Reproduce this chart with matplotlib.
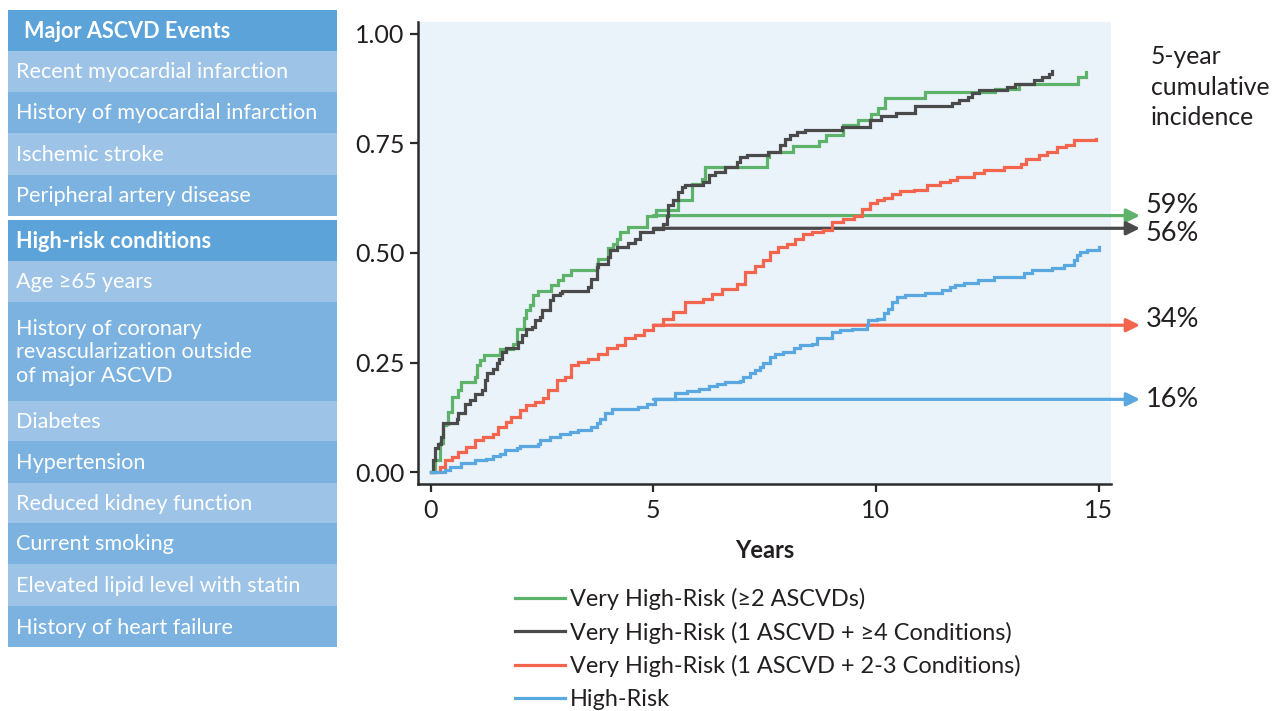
import matplotlib
matplotlib.use("Agg")
import matplotlib.pyplot as plt
from matplotlib.patches import Rectangle
from matplotlib.lines import Line2D

plt.rcParams['font.family'] = ['Lato', 'DejaVu Sans']

# ---------------- data ----------------
series_names = [
    "Very High-Risk (\u22652 ASCVDs)",
    "Very High-Risk (1 ASCVD + \u22654 Conditions)",
    "Very High-Risk (1 ASCVD + 2-3 Conditions)",
    "High-Risk",
]
five_year = [0.585, 0.556, 0.335, 0.166]
five_year_labels = ["59%", "56%", "34%", "16%"]

green_t = [0, 0.09, 0.2, 0.28, 0.35, 0.39, 0.47, 0.61, 0.69, 0.99, 1.03, 1.1, 1.19, 1.55, 1.85, 1.94,
           2.1, 2.15, 2.23, 2.3, 2.4, 2.71, 2.86, 2.98, 3.14, 3.73, 3.76, 3.99, 4.1, 4.18, 4.25, 4.44,
           4.85, 5.07, 5.56, 5.86, 6.09, 6.16, 7.55, 7.6, 8.13, 8.72, 8.88, 9.27, 9.6, 9.9, 10.04, 10.2,
           11.11, 12.68, 13.21, 14.53, 14.71]
green_v = [0, 0.027, 0.066, 0.107, 0.11, 0.137, 0.172, 0.187, 0.206, 0.217, 0.244, 0.255, 0.267, 0.28,
           0.293, 0.327, 0.352, 0.369, 0.38, 0.403, 0.413, 0.426, 0.437, 0.449, 0.46, 0.475, 0.487, 0.51,
           0.521, 0.532, 0.547, 0.56, 0.585, 0.597, 0.62, 0.658, 0.669, 0.696, 0.718, 0.73, 0.743, 0.755,
           0.768, 0.792, 0.804, 0.817, 0.83, 0.853, 0.866, 0.874, 0.885, 0.902, 0.912]

dark_t = [0, 0.05, 0.1, 0.16, 0.22, 0.28, 0.58, 0.61, 0.76, 0.88, 1.0, 1.15, 1.21, 1.27, 1.4, 1.48, 1.53,
          1.6, 1.68, 1.95, 2.04, 2.15, 2.28, 2.34, 2.45, 2.5, 2.68, 2.75, 2.9, 2.94, 3.54, 3.61, 3.73,
          3.76, 3.97, 4.03, 4.18, 4.44, 4.59, 4.7, 5.0, 5.22, 5.3, 5.34, 5.45, 5.56, 5.64, 5.71, 6.12,
          6.24, 6.39, 6.61, 6.87, 6.95, 7.1, 7.58, 7.85, 7.95, 8.07, 8.22, 8.41, 9.24, 9.87, 10.11, 10.46,
          10.87, 11.7, 11.86, 12.06, 12.16, 12.31, 12.95, 13.13, 13.55, 13.73, 13.88, 13.96]
dark_v = [0, 0.027, 0.054, 0.065, 0.08, 0.111, 0.122, 0.134, 0.156, 0.164, 0.178, 0.187, 0.21, 0.225,
          0.236, 0.248, 0.259, 0.274, 0.284, 0.297, 0.312, 0.327, 0.33, 0.346, 0.354, 0.369, 0.392, 0.403,
          0.409, 0.413, 0.422, 0.441, 0.468, 0.475, 0.49, 0.506, 0.513, 0.523, 0.532, 0.547, 0.555, 0.566,
          0.585, 0.608, 0.62, 0.638, 0.65, 0.654, 0.661, 0.677, 0.684, 0.696, 0.707, 0.718, 0.722, 0.73,
          0.745, 0.76, 0.768, 0.775, 0.781, 0.788, 0.802, 0.811, 0.818, 0.834, 0.841, 0.849, 0.856, 0.864,
          0.872, 0.878, 0.885, 0.893, 0.9, 0.908, 0.914]

red_t = [0, 0.2, 0.31, 0.47, 0.61, 0.8, 0.99, 1.18, 1.4, 1.51, 1.7, 1.81, 2.0, 2.15, 2.34, 2.53, 2.64,
         2.83, 3.01, 3.16, 3.31, 3.54, 3.76, 3.95, 4.18, 4.36, 4.59, 4.78, 5.0, 5.22, 5.45, 5.71, 6.12,
         6.31, 6.54, 6.87, 7.06, 7.29, 7.47, 7.62, 7.81, 8.0, 8.19, 8.37, 8.56, 8.82, 9.01, 9.27, 9.5,
         9.69, 9.87, 10.02, 10.17, 10.36, 10.55, 10.85, 11.15, 11.45, 11.67, 11.82, 12.2, 12.42, 12.87,
         13.25, 13.36, 13.66, 13.85, 14.07, 14.26, 14.44, 14.95]
red_v = [0, 0.012, 0.027, 0.035, 0.046, 0.058, 0.073, 0.08, 0.088, 0.103, 0.115, 0.126, 0.141, 0.153,
         0.16, 0.168, 0.187, 0.21, 0.217, 0.244, 0.251, 0.259, 0.27, 0.282, 0.289, 0.305, 0.312, 0.323,
         0.335, 0.35, 0.365, 0.388, 0.395, 0.407, 0.418, 0.43, 0.456, 0.471, 0.483, 0.502, 0.513, 0.521,
         0.532, 0.544, 0.547, 0.551, 0.57, 0.578, 0.585, 0.6, 0.614, 0.62, 0.625, 0.635, 0.641, 0.644,
         0.654, 0.661, 0.665, 0.674, 0.682, 0.688, 0.695, 0.702, 0.714, 0.724, 0.73, 0.741, 0.747, 0.758,
         0.76]

blue_t = [0, 0.2, 0.31, 0.43, 0.69, 0.99, 1.25, 1.4, 1.55, 1.66, 1.93, 2.0, 2.41, 2.45, 2.68, 2.9, 3.13,
          3.31, 3.61, 3.73, 3.8, 3.91, 4.06, 4.66, 4.85, 5.04, 5.49, 5.75, 6.03, 6.24, 6.42, 6.61, 6.95,
          7.02, 7.17, 7.29, 7.4, 7.47, 7.62, 7.74, 7.92, 8.15, 8.3, 8.56, 8.67, 8.93, 9.01, 9.2, 9.46,
          9.8, 9.82, 10.02, 10.17, 10.28, 10.36, 10.47, 10.66, 11.11, 11.48, 11.67, 11.78, 11.97, 12.29,
          12.66, 13.32, 13.51, 13.96, 14.22, 14.44, 14.52, 14.59, 14.74, 15.01]
blue_v = [0, 0, 0.005, 0.012, 0.02, 0.027, 0.031, 0.036, 0.042, 0.05, 0.054, 0.059, 0.065, 0.073, 0.08,
          0.087, 0.092, 0.096, 0.103, 0.111, 0.122, 0.134, 0.145, 0.148, 0.155, 0.166, 0.181, 0.185, 0.19,
          0.196, 0.202, 0.206, 0.208, 0.217, 0.225, 0.232, 0.24, 0.248, 0.263, 0.269, 0.274, 0.284, 0.289,
          0.292, 0.305, 0.306, 0.32, 0.325, 0.327, 0.335, 0.348, 0.35, 0.363, 0.373, 0.388, 0.399, 0.405,
          0.408, 0.415, 0.422, 0.426, 0.431, 0.439, 0.445, 0.453, 0.46, 0.466, 0.472, 0.483, 0.494, 0.502,
          0.507, 0.513]

x_ticks = [0, 5, 10, 15]
y_ticks = [0.00, 0.25, 0.50, 0.75, 1.00]

ascvd_header = "Major ASCVD Events"
ascvd_items = ["Recent myocardial infarction", "History of myocardial infarction",
               "Ischemic stroke", "Peripheral artery disease"]
cond_header = "High-risk conditions"
cond_items = ["Age \u226565 years",
              "History of coronary\nrevascularization outside\nof major ASCVD",
              "Diabetes", "Hypertension", "Reduced kidney function", "Current smoking",
              "Elevated lipid level with statin", "History of heart failure"]

# ---------------- styles ----------------
colors = ["#5DB36A", "#4A4A4A", "#F4654E", "#5AA8E0"]
TXT = "#231F20"
HDR = "#5BA3D9"
LIGHT = "#9DC3E6"
MED = "#7BB2DF"
W, H = 1273, 711

fig = plt.figure(figsize=(W / 100, H / 100), dpi=100)

# ---- left panel (pixel coordinates) ----
pan = fig.add_axes([0, 0, 1, 1])
pan.set_xlim(0, W)
pan.set_ylim(H, 0)
pan.axis("off")

x0, x1 = 8, 337
sec1_edges = [10, 50.7, 91.7, 132.7, 175, 216]
sec2_edges = [220, 261, 301.7, 400.7, 440.7, 482.5, 522.7, 564, 606, 647]


def draw_section(edges, header, items, header_x):
    labels = [header] + items
    for i, lab in enumerate(labels):
        top, bot = edges[i], edges[i + 1]
        if i == 0:
            fc = HDR
        else:
            fc = LIGHT if i % 2 == 1 else MED
        pan.add_patch(Rectangle((x0, top), x1 - x0, bot - top, facecolor=fc, edgecolor="none"))
        pan.text(header_x if i == 0 else 16, (top + bot) / 2 + 1, lab, color="white",
                 fontsize=15.6, fontweight="bold" if i == 0 else "normal",
                 va="center", ha="left", linespacing=1.22)


draw_section(sec1_edges, ascvd_header, ascvd_items, 24)
draw_section(sec2_edges, cond_header, cond_items, 16)

# ---- main axes ----
ax = fig.add_axes([418.3 / W, 1 - 484 / H, (1111 - 418.3) / W, (484 - 21.7) / H])
ax.set_facecolor("#EAF2FA")
ax.set_xlim(-0.28, 15.28)
ax.set_ylim(-0.027, 1.027)

curves = [(green_t, green_v), (dark_t, dark_v), (red_t, red_v), (blue_t, blue_v)]
for (t, v), c, name in zip(curves, colors, series_names):
    ax.plot(t, v, drawstyle="steps-post", color=c, lw=2.3, label=name, zorder=3,
            solid_joinstyle="miter")

label_offsets = [7, -4, 4, 0]  # points
for val, lab, c, off in zip(five_year, five_year_labels, colors, label_offsets):
    ax.annotate("", xy=(15.93, val), xytext=(5, val), xycoords="data",
                arrowprops=dict(arrowstyle="-|>", color=c, lw=2.3, mutation_scale=20,
                                shrinkA=0, shrinkB=0),
                annotation_clip=False, zorder=2)
    ax.annotate(lab, xy=(16.06, val), xytext=(0, off), textcoords="offset points",
                va="center", ha="left", fontsize=19.5, color=TXT, annotation_clip=False)

for s in ["top", "right"]:
    ax.spines[s].set_visible(False)
for s in ["left", "bottom"]:
    ax.spines[s].set_linewidth(1.8)
    ax.spines[s].set_color("#2B2B2B")

ax.set_xticks(x_ticks)
ax.set_yticks(y_ticks)
ax.set_yticklabels([f"{v:.2f}" for v in y_ticks])
ax.tick_params(axis="both", direction="out", length=6, width=1.6, color="#2B2B2B",
               labelsize=18, labelcolor=TXT, pad=4)
ax.tick_params(axis="x", pad=5)
ax.set_xlabel("Years", fontsize=17, fontweight="bold", color=TXT, labelpad=12)

fig.text(1151 / W, 1 - 45.5 / H, "5-year\ncumulative\nincidence", fontsize=17.8, color=TXT,
         va="top", ha="left", linespacing=1.37)

handles = [Line2D([], [], color=c, lw=2.3) for c in colors]
fig.legend(handles, series_names, loc="upper left", bbox_to_anchor=(515 / W, 1 - 588 / H),
           frameon=False, fontsize=16.9, handlelength=2.12, handletextpad=0.21,
           labelspacing=0.49, borderpad=0, borderaxespad=0, labelcolor=TXT)

fig.savefig("out.png", dpi=100)
